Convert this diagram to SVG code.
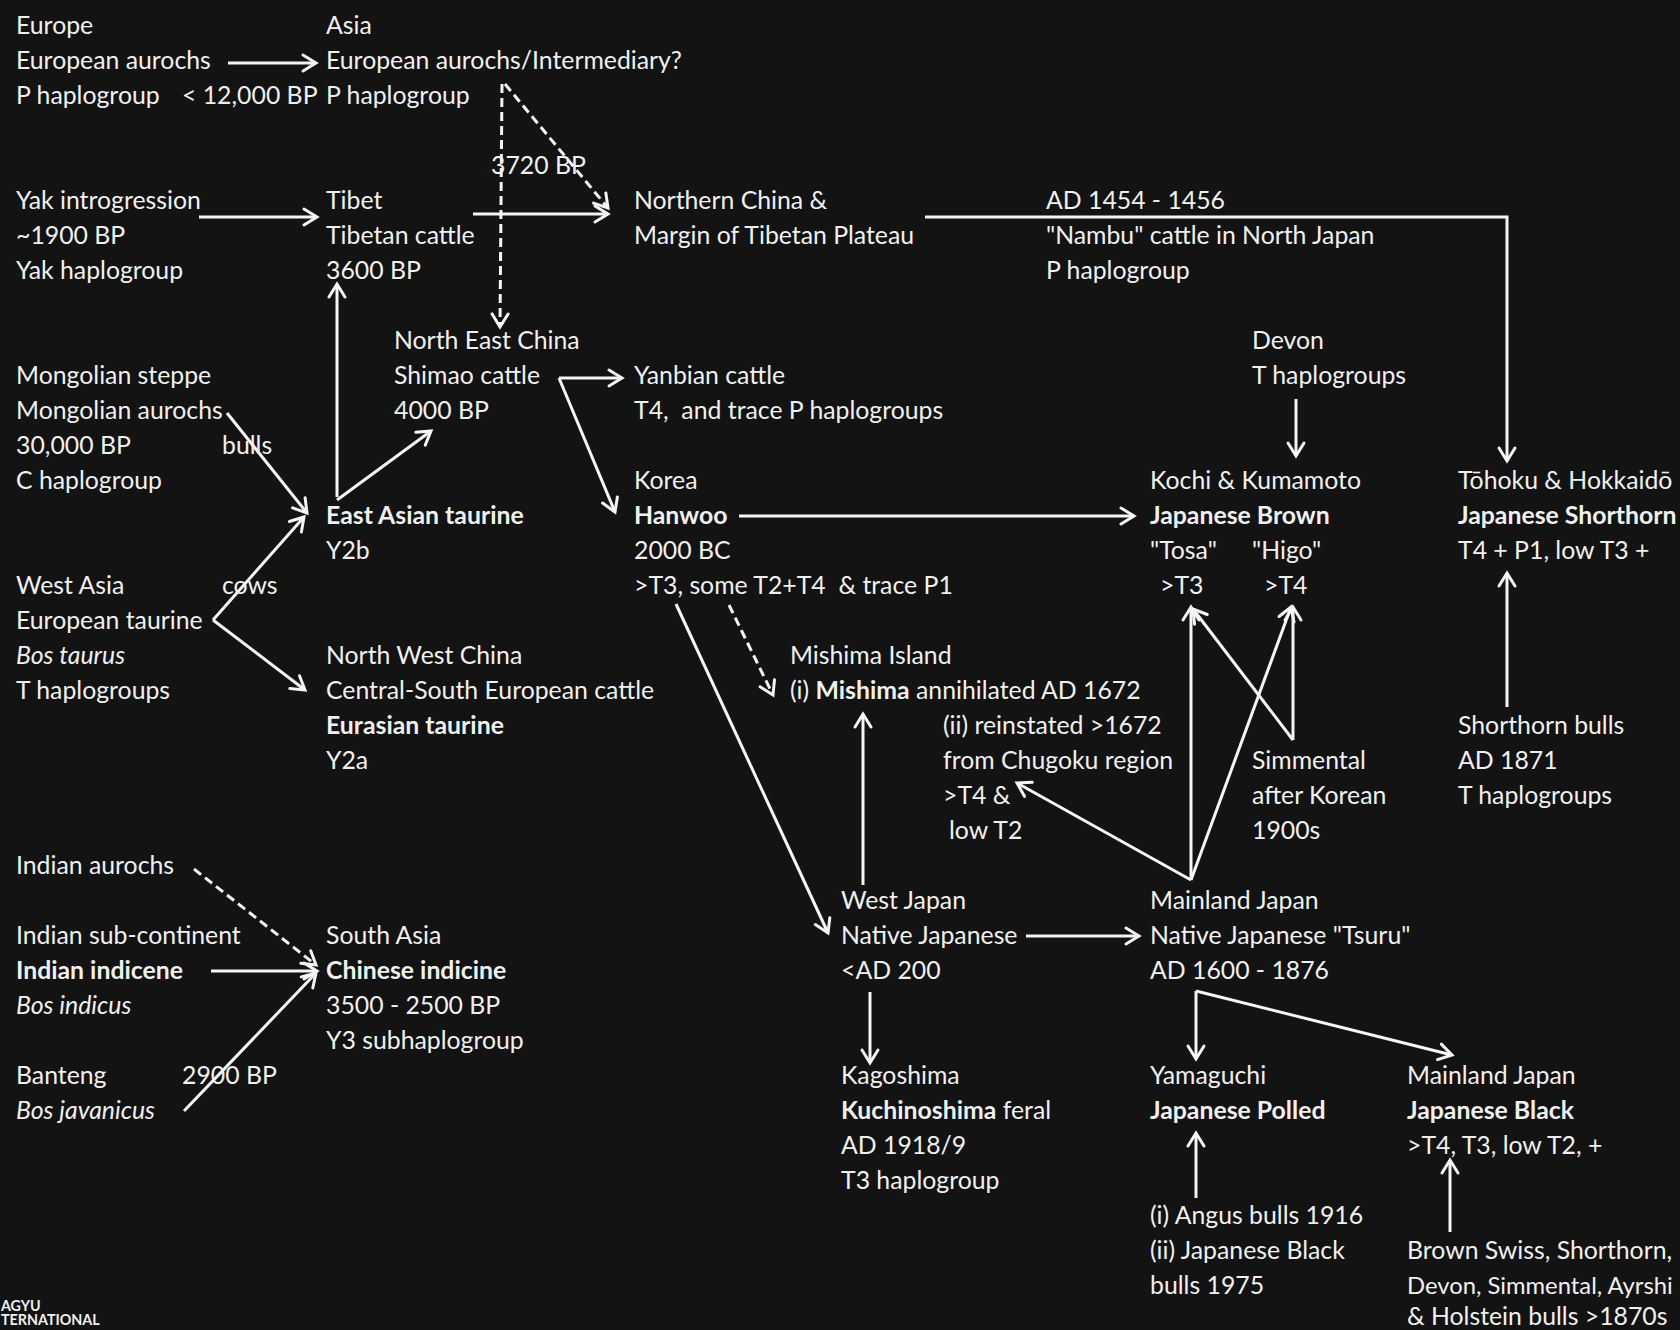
<svg xmlns="http://www.w3.org/2000/svg" width="1680" height="1330" viewBox="0 0 1680 1330">
<defs>
<style>
.t{font-family:Lato,"Open Sans","DejaVu Sans",sans-serif;font-size:24.8px;fill:#f0f0f0}
.b{font-weight:bold}
.i{font-style:italic}
.s{font-size:23.8px}
.logo{font-family:Lato,"DejaVu Sans",sans-serif;font-size:14.3px;font-weight:bold;fill:#f0f0f0}
.c{fill:none;stroke:#f5f5f5;stroke-width:3;marker-end:url(#ah)}
.d{stroke-dasharray:9 5}
</style>
<marker id="ah" viewBox="-16 -10 20 20" refX="0" refY="0" markerWidth="20" markerHeight="20" markerUnits="userSpaceOnUse" orient="auto" overflow="visible">
<path d="M-13,-8 L0,0 L-13,8" fill="none" stroke="#f5f5f5" stroke-width="3" stroke-dasharray="none" stroke-linecap="round"/>
</marker>
</defs>
<rect width="1680" height="1330" fill="#131313"/>

<g id="connectors">
<path class="c" d="M228,63 L316,63"/>
<path class="c" d="M199,217 L317,217"/>
<path class="c" d="M473,214 L608,214"/>
<path class="c d" d="M502,84 L500,327"/>
<path class="c d" d="M505,84 L608,208"/>
<path class="c" d="M337,497 L337,284"/>
<path class="c" d="M337,500 L431,431"/>
<path class="c" d="M227,413 L307,513"/>
<path class="c" d="M213,620 L304,517"/>
<path class="c" d="M213,620 L305,690"/>
<path class="c" d="M559,378 L622,378"/>
<path class="c" d="M559,378 L615,512"/>
<path class="c" d="M739,516 L1134,516"/>
<path class="c" d="M676,604 L828,933"/>
<path class="c d" d="M729,605 L773,695"/>
<path class="c" d="M863,885 L863,714"/>
<path class="c" d="M1026,936 L1139,936"/>
<path class="c" d="M870,992 L870,1063"/>
<path class="c" d="M1191,880 L1191,607"/>
<path class="c" d="M1191,880 L1291,607"/>
<path class="c" d="M1191,880 L1017,783"/>
<path class="c" d="M1293,740 L1293,607"/>
<path class="c" d="M1293,740 L1193,609"/>
<path class="c" d="M1196,991 L1196,1059"/>
<path class="c" d="M1196,991 L1452,1055"/>
<path class="c" d="M1196,1198 L1196,1133"/>
<path class="c" d="M1450,1232 L1450,1160"/>
<path class="c" d="M1296,399 L1296,456"/>
<path class="c" d="M925,217 L1507,217 L1507,461"/>
<path class="c" d="M1507,707 L1507,573"/>
<path class="c d" d="M194,869 L316,965"/>
<path class="c" d="M211,971 L317,971"/>
<path class="c" d="M184,1111 L316,973"/>
<text class="t" x="182" y="104">&lt; 12,000 BP</text>
<text class="t" x="491" y="174">3720 BP</text>
<text class="t" x="222" y="454">bulls</text>
<text class="t" x="222" y="594">cows</text>
<text class="t" x="182" y="1084">2900 BP</text>
</g>

<g id="n-europe"><text class="t" x="16" y="34">Europe</text><text class="t" x="16" y="69">European aurochs</text><text class="t" x="16" y="104">P haplogroup</text></g>
<g id="n-asia"><text class="t" x="326" y="34">Asia</text><text class="t" x="326" y="69">European aurochs/Intermediary?</text><text class="t" x="326" y="104">P haplogroup</text></g>
<g id="n-yak"><text class="t" x="16" y="209">Yak introgression</text><text class="t" x="16" y="244">~1900 BP</text><text class="t" x="16" y="279">Yak haplogroup</text></g>
<g id="n-tibet"><text class="t" x="326" y="209">Tibet</text><text class="t" x="326" y="244">Tibetan cattle</text><text class="t" x="326" y="279">3600 BP</text></g>
<g id="n-northern-china"><text class="t" x="634" y="209">Northern China &amp;</text><text class="t" x="634" y="244">Margin of Tibetan Plateau</text></g>
<g id="n-nambu"><text class="t" x="1046" y="209">AD 1454 - 1456</text><text class="t" x="1046" y="244">"Nambu" cattle in North Japan</text><text class="t" x="1046" y="279">P haplogroup</text></g>
<g id="n-ne-china"><text class="t" x="394" y="349">North East China</text><text class="t" x="394" y="384">Shimao cattle</text><text class="t" x="394" y="419">4000 BP</text></g>
<g id="n-yanbian"><text class="t" x="634" y="384">Yanbian cattle</text><text class="t" x="634" y="419" xml:space="preserve">T4,  and trace P haplogroups</text></g>
<g id="n-devon"><text class="t" x="1252" y="349">Devon</text><text class="t" x="1252" y="384">T haplogroups</text></g>
<g id="n-mongolia"><text class="t" x="16" y="384">Mongolian steppe</text><text class="t" x="16" y="419">Mongolian aurochs</text><text class="t" x="16" y="454">30,000 BP</text><text class="t" x="16" y="489">C haplogroup</text></g>
<g id="n-korea"><text class="t" x="634" y="489">Korea</text><text class="t b" x="634" y="524">Hanwoo</text><text class="t" x="634" y="559">2000 BC</text><text class="t" x="634" y="594" xml:space="preserve">&gt;T3, some T2+T4  &amp; trace P1</text></g>
<g id="n-east-asian"><text class="t b" x="326" y="524">East Asian taurine</text><text class="t" x="326" y="559">Y2b</text></g>
<g id="n-jbrown"><text class="t" x="1150" y="489">Kochi &amp; Kumamoto</text><text class="t b" x="1150" y="524">Japanese Brown</text><text class="t" x="1150" y="559">"Tosa"</text><text class="t" x="1252" y="559">"Higo"</text><text class="t" x="1160" y="594">&gt;T3</text><text class="t" x="1264" y="594">&gt;T4</text></g>
<g id="n-jshorthorn"><text class="t" x="1458" y="489">Tōhoku &amp; Hokkaidō</text><text class="t b" x="1458" y="524">Japanese Shorthorn</text><text class="t" x="1458" y="559">T4 + P1, low T3 +</text></g>
<g id="n-west-asia"><text class="t" x="16" y="594">West Asia</text><text class="t" x="16" y="629">European taurine</text><text class="t i" x="16" y="664">Bos taurus</text><text class="t" x="16" y="699">T haplogroups</text></g>
<g id="n-nw-china"><text class="t" x="326" y="664">North West China</text><text class="t" x="326" y="699">Central-South European cattle</text><text class="t b" x="326" y="734">Eurasian taurine</text><text class="t" x="326" y="769">Y2a</text></g>
<g id="n-mishima"><text class="t" x="790" y="664">Mishima Island</text><text class="t" x="790" y="699">(i) <tspan class="b">Mishima</tspan> annihilated AD 1672</text></g>
<g id="n-reinstated"><text class="t" x="943" y="734">(ii) reinstated &gt;1672</text><text class="t" x="943" y="769">from Chugoku region</text><text class="t" x="943" y="804">&gt;T4 &amp;</text><text class="t" x="949" y="839">low T2</text></g>
<g id="n-simmental"><text class="t" x="1252" y="769">Simmental</text><text class="t" x="1252" y="804">after Korean</text><text class="t" x="1252" y="839">1900s</text></g>
<g id="n-shorthorn-bulls"><text class="t" x="1458" y="734">Shorthorn bulls</text><text class="t" x="1458" y="769">AD 1871</text><text class="t" x="1458" y="804">T haplogroups</text></g>
<g id="n-indian-aurochs"><text class="t" x="16" y="874">Indian aurochs</text></g>
<g id="n-indian"><text class="t" x="16" y="944">Indian sub-continent</text><text class="t b" x="16" y="979">Indian indicene</text><text class="t i" x="16" y="1014">Bos indicus</text></g>
<g id="n-south-asia"><text class="t" x="326" y="944">South Asia</text><text class="t b" x="326" y="979">Chinese indicine</text><text class="t" x="326" y="1014">3500 - 2500 BP</text><text class="t" x="326" y="1049">Y3 subhaplogroup</text></g>
<g id="n-banteng"><text class="t" x="16" y="1084">Banteng</text><text class="t i" x="16" y="1119">Bos javanicus</text></g>
<g id="n-west-japan"><text class="t" x="841" y="909">West Japan</text><text class="t" x="841" y="944">Native Japanese</text><text class="t" x="841" y="979">&lt;AD 200</text></g>
<g id="n-mainland"><text class="t" x="1150" y="909">Mainland Japan</text><text class="t" x="1150" y="944">Native Japanese "Tsuru"</text><text class="t" x="1150" y="979">AD 1600 - 1876</text></g>
<g id="n-kagoshima"><text class="t" x="841" y="1084">Kagoshima</text><text class="t" x="841" y="1119"><tspan class="b">Kuchinoshima</tspan> feral</text><text class="t" x="841" y="1154">AD 1918/9</text><text class="t" x="841" y="1189">T3 haplogroup</text></g>
<g id="n-yamaguchi"><text class="t" x="1150" y="1084">Yamaguchi</text><text class="t b" x="1150" y="1119">Japanese Polled</text></g>
<g id="n-jblack"><text class="t" x="1407" y="1084">Mainland Japan</text><text class="t b" x="1407" y="1119">Japanese Black</text><text class="t" x="1407" y="1154">&gt;T4, T3, low T2, +</text></g>
<g id="n-angus"><text class="t" x="1150" y="1224">(i) Angus bulls 1916</text><text class="t" x="1150" y="1259">(ii) Japanese Black</text><text class="t" x="1150" y="1294">bulls 1975</text></g>
<g id="n-brown-swiss"><text class="t" x="1407" y="1259">Brown Swiss, Shorthorn,</text><text class="t s" x="1407" y="1294">Devon, Simmental, Ayrshi</text><text class="t" x="1407" y="1325">&amp; Holstein bulls &gt;1870s</text></g>
<g id="logo"><text class="logo" x="1" y="1311">AGYU</text><text class="logo" x="1" y="1325">TERNATIONAL</text></g>
</svg>
